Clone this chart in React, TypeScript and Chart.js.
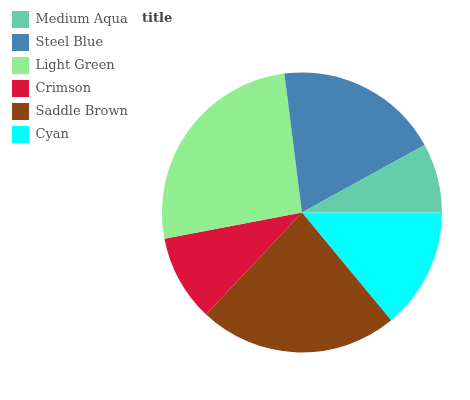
import React, { useEffect, useRef } from "react";
import { Chart, registerables } from "chart.js";

Chart.register(...registerables);

const categories = ["Medium Aqua", "Steel Blue", "Light Green", "Crimson", "Saddle Brown", "Cyan"];
const values = [8, 19, 26, 10, 23, 14];
const colors = ["#66CDAA", "#4682B4", "#90EE90", "#DC143C", "#8B4513", "#00FFFF"];
const titleText = "title";

const titlePlugin = {
  id: "customTitle",
  afterDraw(chart: any) {
    const ctx = chart.ctx;
    ctx.save();
    ctx.font = "bold 13px 'DejaVu Serif'";
    ctx.fillStyle = "#444444";
    ctx.textAlign = "left";
    ctx.textBaseline = "alphabetic";
    ctx.fillText(titleText, 142, 21.7);
    ctx.restore();
  },
};

export default function App() {
  const ref = useRef<HTMLCanvasElement | null>(null);
  useEffect(() => {
    if (!ref.current) return;
    // matplotlib-style counter-clockwise order from 3 o'clock: draw reversed, clockwise
    const labels = [...categories].reverse();
    const data = [...values].reverse();
    const bg = [...colors].reverse();
    const chart = new Chart(ref.current, {
      type: "pie",
      data: {
        labels,
        datasets: [
          {
            data,
            backgroundColor: bg,
            borderWidth: 0,
            radius: 140,
          } as any,
        ],
      },
      options: {
        responsive: false,
        animation: false,
        rotation: 90,
        layout: { padding: { top: 5, left: 6, right: 4, bottom: 0 } },
        plugins: {
          legend: {
            position: "left",
            align: "start",
            reverse: true,
            labels: {
              boxWidth: 17,
              boxHeight: 17,
              padding: 6,
              color: "#555555",
              font: { family: "'DejaVu Serif'", size: 13 },
            },
          },
          title: { display: false },
          tooltip: { enabled: false },
        },
      },
      plugins: [titlePlugin],
    });
    return () => chart.destroy();
  }, []);
  return (
    <div style={{ position: "fixed", left: 0, top: 0, width: 470, height: 400, overflow: "hidden", background: "#fff" }}>
      <canvas ref={ref} width={470} height={420} style={{ display: "block" }} />
    </div>
  );
}
